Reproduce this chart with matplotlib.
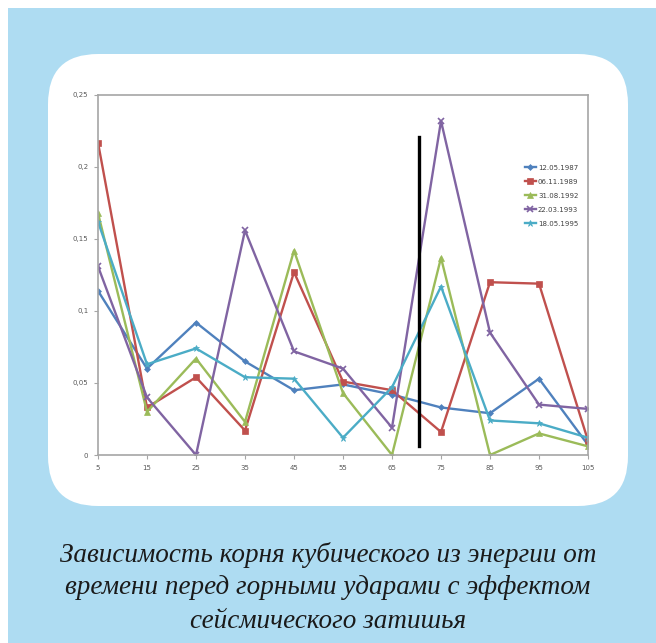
import matplotlib
matplotlib.use("Agg")
import matplotlib.pyplot as plt
from matplotlib.patches import Rectangle, FancyBboxPatch
from matplotlib.ticker import FixedLocator

# time before rockburst (x) and cubic root of energy per event
hours = [5, 15, 25, 35, 45, 55, 65, 75, 85, 95, 105]
labels = ['12.05.1987', '06.11.1989', '31.08.1992', '22.03.1993', '18.05.1995']
s1987 = [0.114, 0.060, 0.092, 0.065, 0.045, 0.049, 0.042, 0.033, 0.029, 0.053, 0.007]
s1989 = [0.217, 0.033, 0.054, 0.017, 0.127, 0.051, 0.045, 0.016, 0.120, 0.119, 0.010]
s1992 = [0.168, 0.030, 0.067, 0.023, 0.142, 0.043, 0.000, 0.137, 0.000, 0.015, 0.006]
s1993 = [0.131, 0.040, 0.000, 0.156, 0.072, 0.060, 0.019, 0.232, 0.085, 0.035, 0.032]
s1995 = [0.162, 0.063, 0.074, 0.054, 0.053, 0.012, 0.047, 0.117, 0.024, 0.022, 0.012]
yticks = [0, 0.05, 0.1, 0.15, 0.2, 0.25]
ytick_labels = ['0', '0,05', '0,1', '0,15', '0,2', '0,25']

# black marker line
mark_x = 70.5
mark_y = [0.006, 0.221]

caption = ['Зависимость корня кубического из энергии от',
           'времени перед горными ударами с эффектом',
           'сейсмического затишья']

series = [s1987, s1989, s1992, s1993, s1995]
colors = ['#4F81BD', '#C0504D', '#9BBB59', '#8064A2', '#4BACC6']
markers = ['D', 's', '^', 'x', '*']
msizes = [3, 4, 4, 4, 4.5]

W, H = 656, 643
fig = plt.figure(figsize=(W / 100, H / 100), dpi=100, facecolor='white')

# background in pixel coords
bg = fig.add_axes([0, 0, 1, 1])
bg.set_xlim(0, W)
bg.set_ylim(H, 0)
bg.axis('off')
bg.add_patch(Rectangle((8, 8), W - 8, H - 8, facecolor='#AEDCF2', edgecolor='none'))
bg.add_patch(FancyBboxPatch((48, 54), 580, 452, boxstyle='round,pad=0,rounding_size=50',
                            facecolor='white', edgecolor='none'))

# plot area
left, right, top, bottom = 98, 588, 95, 455
ax = fig.add_axes([left / W, 1 - bottom / H, (right - left) / W, (bottom - top) / H])
ax.set_facecolor('white')
for s, c, m, ms, lab in zip(series, colors, markers, msizes, labels):
    ax.plot(hours, s, color=c, marker=m, markersize=ms, lw=1.7, label=lab,
            markeredgewidth=1.2 if m == 'x' else 0.5)
ax.plot([mark_x, mark_x], mark_y, color='black', lw=2.4)

ax.set_xlim(hours[0], hours[-1])
ax.set_ylim(yticks[0], yticks[-1])
ax.xaxis.set_major_locator(FixedLocator(hours))
ax.set_xticklabels([str(h) for h in hours])
ax.yaxis.set_major_locator(FixedLocator(yticks))
ax.set_yticklabels(ytick_labels)
for sp in ax.spines.values():
    sp.set_color('#A6A6A6')
    sp.set_linewidth(1.2)
ax.tick_params(axis='both', colors='#A6A6A6', labelcolor='#595959', labelsize=5,
               length=3, width=0.8, direction='out', pad=4)

ax.legend(loc='upper left', bbox_to_anchor=((522 - left) / (right - left), (bottom - 162) / (bottom - top)),
          frameon=False, fontsize=5, handlelength=1.6, labelspacing=1.15, handletextpad=0.3,
          borderaxespad=0, labelcolor='#404040')

for i, line in enumerate(caption):
    fig.text(328 / W, 1 - (555 + 33 * i) / H, line, ha='center', va='center',
             family='Liberation Serif', style='italic', fontsize=19.5, color='#1a1a1a')

fig.savefig('out.png', dpi=100, facecolor=fig.get_facecolor())
